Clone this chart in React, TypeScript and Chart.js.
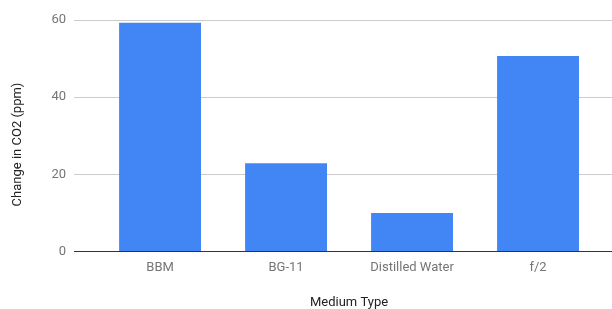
import React, { useEffect, useRef } from "react";
import { Chart, registerables } from "chart.js";

Chart.register(...registerables);

const categories = ["BBM", "BG-11", "Distilled Water", "f/2"];
const co2Change = [59.3, 22.9, 10.0, 50.7];
const yTicks = [0, 20, 40, 60];
const xTitle = "Medium Type";
const yTitle = "Change in CO2 (ppm)";

const axisTitlePlugin = {
  id: "axisTitles",
  afterDraw(chart: any) {
    const ctx = chart.ctx;
    ctx.save();
    ctx.fillStyle = "#222222";
    ctx.font = "13px Roboto";
    ctx.textAlign = "center";
    ctx.textBaseline = "middle";
    ctx.fillText(xTitle, 349, 302.5);
    ctx.translate(18, 144.5);
    ctx.rotate(-Math.PI / 2);
    ctx.fillText(yTitle, 0, 0);
    ctx.restore();
  },
};

export default function App() {
  const ref = useRef<HTMLCanvasElement | null>(null);

  useEffect(() => {
    document.body.style.margin = "0";
    const canvas = ref.current;
    if (!canvas) return;
    const chart = new Chart(canvas, {
      type: "bar",
      data: {
        datasets: [
          {
            label: yTitle,
            data: categories.map((_, i) => ({ x: i, y: co2Change[i] })),
            backgroundColor: "#4285F4",
            borderWidth: 0,
            categoryPercentage: 1,
            barPercentage: 0.65,
          },
        ],
      },
      plugins: [axisTitlePlugin],
      options: {
        animation: false,
        responsive: false,
        maintainAspectRatio: false,
        layout: { padding: { top: 20, right: 0, left: 0, bottom: 0 } },
        plugins: { legend: { display: false }, tooltip: { enabled: false } },
        scales: {
          x: {
            type: "linear",
            offset: false,
            min: -0.683,
            max: 3.587,
            afterBuildTicks: (scale: any) => {
              scale.ticks = categories.map((_, i) => ({ value: i }));
            },
            afterFit: (scale: any) => {
              scale.height = 57.5;
            },
            grid: { display: false, drawTicks: false, offset: false },
            border: { display: false },
            ticks: {
              padding: 8,
              color: "#757575",
              font: { family: "Roboto", size: 13 },
              autoSkip: false,
              maxRotation: 0,
              callback: (v: any) => categories[v as number] ?? "",
            },
            title: { display: false },
          },
          y: {
            min: 0,
            max: 60,
            afterBuildTicks: (scale: any) => {
              scale.ticks = yTicks.map((v) => ({ value: v }));
            },
            afterFit: (scale: any) => {
              scale.width = 74;
            },
            grid: {
              drawTicks: false,
              color: (ctx: any) => (ctx.tick && ctx.tick.value === 0 ? "#333333" : "#cccccc"),
              lineWidth: 1,
            },
            border: { display: false },
            ticks: {
              padding: 8,
              color: "#757575",
              font: { family: "Roboto", size: 13 },
            },
            title: { display: false },
          },
        },
      },
    });
    return () => chart.destroy();
  }, []);

  return (
    <div style={{ width: 612, height: 309 }}>
      <canvas ref={ref} width={612} height={309} style={{ width: 612, height: 309, display: "block" }} />
    </div>
  );
}
